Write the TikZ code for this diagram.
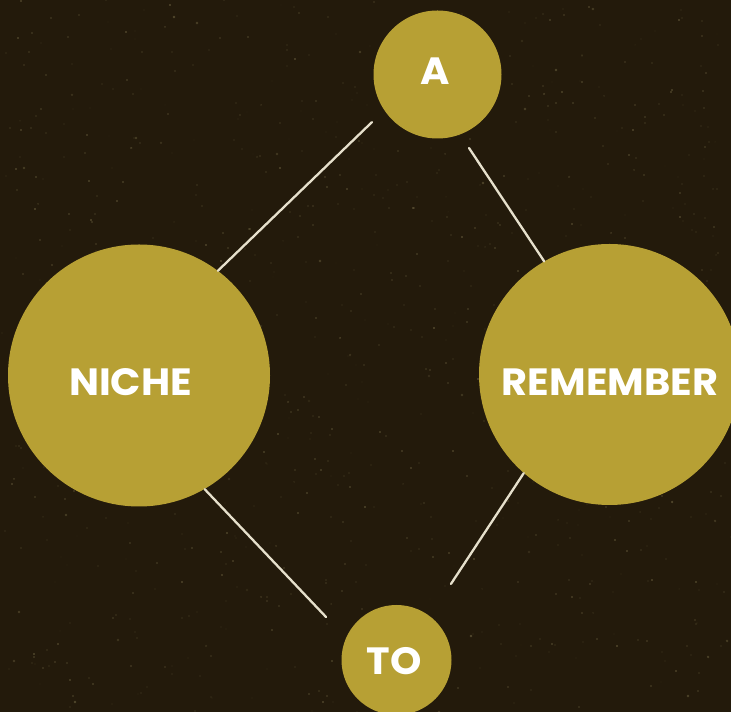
\documentclass[tikz,border=0pt]{standalone}
\usepackage{fontspec}
\setmainfont{Poppins}
\usetikzlibrary{calc}
\definecolor{bgbrown}{HTML}{231A0B}
\definecolor{gold}{HTML}{B7A034}
\definecolor{speck}{HTML}{7A6F4A}
\definecolor{linecol}{HTML}{E6E0CC}
\tikzset{
  bubble/.style={circle, fill=gold, inner sep=0pt},
  lbl/.style={text=white, inner sep=0pt, xscale=1.05, font=\bfseries\fontsize{38}{38}\selectfont},
  link/.style={draw=linecol, line width=2.3pt, line cap=round}
}
\begin{document}
\begin{tikzpicture}[x=1pt,y=1pt]
\fill[bgbrown] (0,0) rectangle (731,712);
\useasboundingbox (0,0) rectangle (731,712);
% speckle texture
\pgfmathsetseed{7}
\foreach \i in {1,...,900}{
  \pgfmathsetmacro{\sx}{random(0,731)}
  \pgfmathsetmacro{\sy}{random(0,712)}
  \pgfmathsetmacro{\sr}{0.4+rnd*0.9}
  \pgfmathsetmacro{\so}{0.15+rnd*0.4}
  \fill[speck, opacity=\so] (\sx,\sy) circle (\sr);
}
% bubbles
\node[bubble, minimum size=128pt] (a) at (437.5,637.5) {};
\node[bubble, minimum size=262pt] (niche) at (139,336.5) {};
\node[bubble, minimum size=261pt] (remember) at (609.5,337.5) {};
\node[bubble, minimum size=110pt] (to) at (396.5,52) {};
% labels
\node[lbl] (la) at (435,641) {A};
\node[lbl] (lniche) at (130.5,330) {NICHE};
\node[lbl] (lremember) at (610,330) {REMEMBER};
\node[lbl] (lto) at (394,51) {TO};
% connector free ends
\coordinate (a1) at ($(a)+(216:81)$);
\coordinate (a2) at ($(a)+(-66.8:80)$);
\coordinate (t1) at ($(to)+(148.6:82.6)$);
\coordinate (t2) at ($(to)+(54.4:93.5)$);
% connectors
\draw[link] (a1) -- (niche.53.4);
\draw[link] (a2) -- (remember.120);
\draw[link] (niche.-60.8) -- (t1);
\draw[link] (remember.229) -- (t2);
\end{tikzpicture}
\end{document}
